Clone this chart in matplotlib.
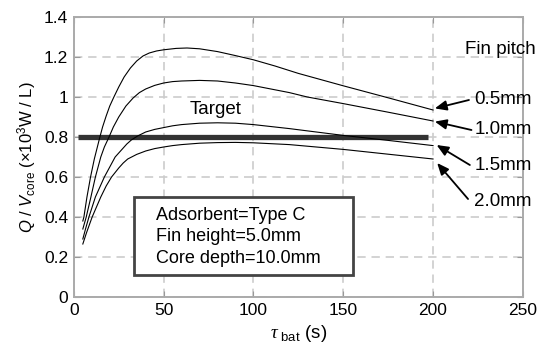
import numpy as np
import matplotlib
matplotlib.use("Agg")
import matplotlib.pyplot as plt
from matplotlib.patches import Rectangle

plt.rcParams['font.family'] = ['Liberation Sans', 'DejaVu Sans']
plt.rcParams['mathtext.fontset'] = 'custom'
plt.rcParams['mathtext.rm'] = 'Liberation Sans'
plt.rcParams['mathtext.it'] = 'Liberation Sans:italic'
plt.rcParams['mathtext.sf'] = 'Liberation Serif:italic'

# datos
x_05 = [5, 5.6, 7.3, 9.3, 11.4, 14.5, 16, 18, 20, 22.3, 25, 28, 31.5, 35, 38.5, 42, 46, 50, 57, 63, 70, 80, 90, 100, 112, 125, 150, 175, 200]
y_05 = [0.38, 0.40, 0.50, 0.60, 0.69, 0.80, 0.85, 0.905, 0.955, 1.0, 1.05, 1.10, 1.145, 1.18, 1.205, 1.22, 1.23, 1.236, 1.243, 1.245, 1.241, 1.227, 1.207, 1.186, 1.155, 1.118, 1.056, 0.996, 0.935]

x_10 = [5, 6.9, 9.5, 12, 15, 17, 19.6, 22, 25, 29, 33, 36.5, 40, 45, 50, 55, 60, 70, 80, 90, 100, 120, 130, 150, 175, 200]
y_10 = [0.34, 0.40, 0.50, 0.60, 0.70, 0.75, 0.80, 0.85, 0.90, 0.955, 0.995, 1.022, 1.04, 1.058, 1.07, 1.077, 1.08, 1.083, 1.08, 1.07, 1.057, 1.022, 1.0, 0.967, 0.924, 0.88]

x_15 = [5, 6.5, 8.4, 12, 17, 20, 23, 27, 29.5, 32, 35.5, 40, 45, 50, 55, 60, 70, 80, 90, 100, 120, 150, 175, 200]
y_15 = [0.29, 0.34, 0.40, 0.50, 0.60, 0.65, 0.70, 0.74, 0.765, 0.785, 0.805, 0.825, 0.838, 0.847, 0.856, 0.862, 0.869, 0.871, 0.869, 0.862, 0.842, 0.808, 0.783, 0.757]

x_20 = [5, 7, 10.2, 15, 18, 21, 25, 27.5, 30, 35, 40, 45, 50, 55, 60, 70, 80, 90, 100, 120, 150, 175, 200]
y_20 = [0.265, 0.32, 0.40, 0.50, 0.555, 0.60, 0.645, 0.67, 0.69, 0.713, 0.73, 0.742, 0.75, 0.757, 0.762, 0.769, 0.772, 0.773, 0.771, 0.762, 0.738, 0.714, 0.69]

target_x = [2.4, 197]
target_y = [0.8, 0.8]

pitch_labels = ['0.5mm', '1.0mm', '1.5mm', '2.0mm']
label_y = [0.988, 0.835, 0.655, 0.477]
arrow_tail = [(220, 0.985), (221.4, 0.835), (220.5, 0.66), (219.5, 0.49)]
arrow_head = [(201, 0.943), (201, 0.877), (202, 0.76), (202.3, 0.67)]

fig = plt.figure(figsize=(5.39, 3.54), dpi=100)
ax = fig.add_axes([0.137, 0.161, 0.833, 0.791])

for xs, ys in [(x_05, y_05), (x_10, y_10), (x_15, y_15), (x_20, y_20)]:
    ax.plot(xs, ys, color='black', lw=0.8, zorder=3)

ax.plot(target_x, target_y, color='#333333', lw=3.8, solid_capstyle='butt', zorder=2)
ax.text(79, 0.935, 'Target', fontsize=13.5, ha='center', va='center')

ax.text(218, 1.235, 'Fin pitch', fontsize=13.5, ha='left', va='center', clip_on=False)
for lab, ly, t, h in zip(pitch_labels, label_y, arrow_tail, arrow_head):
    ax.text(223, ly, lab, fontsize=13.5, ha='left', va='center', clip_on=False)
    ax.annotate('', xy=h, xytext=t,
                arrowprops=dict(arrowstyle='-|>,head_length=0.7,head_width=0.3',
                                color='black', lw=1.3, shrinkA=0, shrinkB=0),
                annotation_clip=False)

ax.add_patch(Rectangle((33.4, 0.11), 121.8, 0.39, fill=True, facecolor='white',
                       edgecolor='#444444', lw=2.0, zorder=4))
info = ['Adsorbent=Type C', 'Fin height=5.0mm', 'Core depth=10.0mm']
for i, s in enumerate(info):
    ax.text(45.6, 0.41 - i * 0.109, s, fontsize=13, ha='left', va='center', zorder=5)

ax.set_xlim(0, 250)
ax.set_ylim(0, 1.4)
ax.set_xticks([0, 50, 100, 150, 200, 250])
ax.set_xticklabels(['0', '50', '100', '150', '200', '250'])
ax.set_yticks([0, 0.2, 0.4, 0.6, 0.8, 1.0, 1.2, 1.4])
ax.set_yticklabels(['0', '0.2', '0.4', '0.6', '0.8', '1', '1.2', '1.4'])
ax.tick_params(direction='in', length=4, color='#999999', labelsize=12.5,
               top=True, right=True, pad=4)
ax.grid(True, color='#cccccc', ls=(0, (5, 3.5)), lw=1.2)
for sp in ax.spines.values():
    sp.set_color('#aaaaaa')
    sp.set_linewidth(1.4)

ax.set_xlabel(r'$\mathsf{\tau}_{\ \rm bat}$ (s)', fontsize=13.5, labelpad=4)
ax.set_ylabel(r'$Q$ / $V_{\rm core}$ (×10$^3$W / L)', fontsize=12, labelpad=4)

fig.savefig('out.png', dpi=100)
